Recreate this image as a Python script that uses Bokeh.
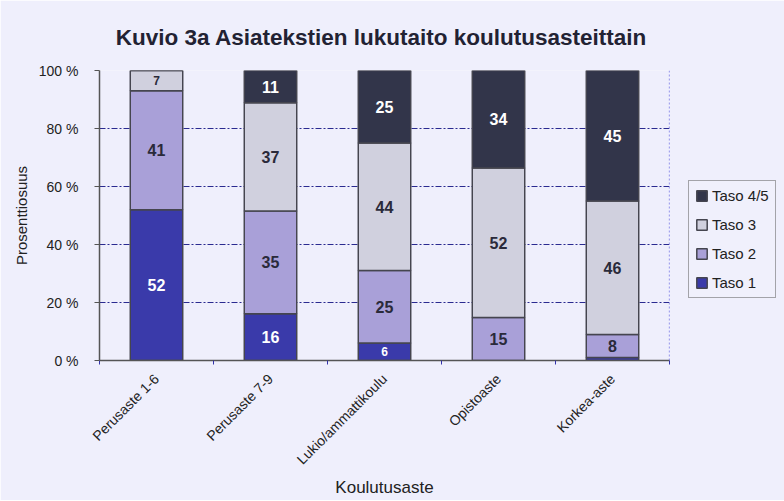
import numpy as np
from bokeh.plotting import figure
from bokeh.models import (ColumnDataSource, FixedTicker, Legend, LegendItem, Range1d, Span, Title)
from bokeh.embed import file_html
from bokeh.resources import INLINE
from bokeh.core.properties import value

# ---- data ----
categories = ["Perusaste 1-6", "Perusaste 7-9", "Lukio/ammattikoulu", "Opistoaste", "Korkea-aste"]
series_names = ["Taso 1", "Taso 2", "Taso 3", "Taso 4/5"]
taso1 = [52, 16, 6, 0, 1]
taso2 = [41, 35, 25, 15, 8]
taso3 = [7, 37, 44, 52, 46]
taso45 = [0, 11, 25, 34, 45]
y_ticks = [0, 20, 40, 60, 80, 100]
y_tick_labels = ["0 %", "20 %", "40 %", "60 %", "80 %", "100 %"]

colors = ["#3a3aaa", "#a9a0d8", "#d0d0de", "#32354a"]
text_colors = ["#ffffff", "#2a2a3a", "#2a2a3a", "#ffffff"]
BG = "#efeffc"
FONT = "Liberation Sans"

series = [taso1, taso2, taso3, taso45]
totals = np.sum(np.array(series, dtype=float), axis=0)
xs = np.arange(len(categories)) + 0.5

p = figure(frame_width=570, frame_height=290, output_backend="svg", toolbar_location=None,
           x_range=Range1d(0, len(categories)), y_range=Range1d(0, 100),
           min_border_left=99, min_border_right=107, min_border_top=70, min_border_bottom=133)
p.background_fill_color = BG
p.border_fill_color = BG
p.outline_line_color = None

bottom = np.zeros(len(categories))
renderers = []
for name, vals, col, tcol in zip(series_names, series, colors, text_colors):
    share = np.array(vals, dtype=float) / totals * 100
    top = bottom + share
    src = ColumnDataSource(dict(x=xs, bottom=bottom.copy(), top=top,
                                mid=(bottom + top) / 2,
                                lab=[str(v) if v >= 5 else "" for v in vals],
                                fs=["12px" if s < 8 else "16px" for s in share]))
    r = p.vbar(x="x", width=0.46, bottom="bottom", top="top", source=src,
               fill_color=col, line_color="#45454f", line_width=1.5)
    p.text(x="x", y="mid", text="lab", source=src, text_align="center",
           text_baseline="middle", text_font=value(FONT), text_font_style="bold",
           text_font_size="fs", text_color=tcol)
    renderers.append((name, r))
    bottom = top

# grid
p.xgrid.grid_line_color = None
p.ygrid.ticker = FixedTicker(ticks=y_ticks)
p.ygrid.grid_line_color = "#2a2a90"
p.ygrid.grid_line_dash = "6 2 2 2"
p.ygrid.grid_line_width = 1.2
p.ygrid.level = "underlay"
p.add_layout(Span(location=len(categories), dimension="height", line_color="#5555dd",
                  line_dash="2 2", line_width=1.2))

# y axis
p.yaxis.ticker = FixedTicker(ticks=y_ticks)
p.yaxis.major_label_overrides = {t: l for t, l in zip(y_ticks, y_tick_labels)}
p.yaxis.axis_label = "Prosenttiosuus"
p.yaxis.axis_label_text_font = FONT
p.yaxis.axis_label_text_font_style = "normal"
p.yaxis.axis_label_text_font_size = "15px"
p.yaxis.axis_label_text_color = "#222222"
p.yaxis.axis_label_standoff = 6
p.yaxis.major_label_standoff = 16
p.yaxis.major_label_text_font = FONT
p.yaxis.major_label_text_font_size = "14px"
p.yaxis.major_label_text_color = "#222222"
p.yaxis.axis_line_color = "#555555"
p.yaxis.axis_line_width = 1.5
p.yaxis.major_tick_line_color = "#555555"
p.yaxis.major_tick_in = 0
p.yaxis.major_tick_out = 5
p.yaxis.minor_tick_line_color = None

# x axis
p.xaxis.ticker = FixedTicker(ticks=list(xs), minor_ticks=list(range(len(categories) + 1)))
p.xaxis.major_label_overrides = {float(x): c for x, c in zip(xs, categories)}
p.xaxis.major_label_orientation = np.pi / 4
p.xaxis.major_label_standoff = 10
p.xaxis.major_label_text_font = FONT
p.xaxis.major_label_text_font_size = "14px"
p.xaxis.major_label_text_color = "#222222"
p.xaxis.major_tick_line_color = None
p.xaxis.minor_tick_line_color = "#3333aa"
p.xaxis.minor_tick_in = 0
p.xaxis.minor_tick_out = 4
p.xaxis.axis_line_color = "#555555"
p.xaxis.axis_line_width = 1.5
p.xaxis.axis_label = "Koulutusaste"
p.xaxis.axis_label_text_font = FONT
p.xaxis.axis_label_text_font_style = "normal"
p.xaxis.axis_label_text_font_size = "17px"
p.xaxis.axis_label_text_color = "#222222"
p.xaxis.axis_label_standoff = 2

# title
title = Title(text="Kuvio 3a  Asiatekstien lukutaito koulutusasteittain", align="center",
              text_font=FONT, text_font_size="22.5px", text_font_style="bold",
              text_color="#222233", standoff=42)
p.add_layout(title, "above")

# legend
items = [LegendItem(label=name, renderers=[r]) for name, r in reversed(renderers)]
legend = Legend(items=items, location=(19, 62), label_text_font=FONT,
                label_text_font_size="15px", label_text_color="#222222",
                glyph_width=13, glyph_height=13, label_height=16, spacing=12, padding=6,
                label_standoff=4, border_line_color="#555555", border_line_width=1.5,
                background_fill_color=BG, margin=0)
p.add_layout(legend, "right")

open("out.html", "w").write(file_html(p, INLINE))
